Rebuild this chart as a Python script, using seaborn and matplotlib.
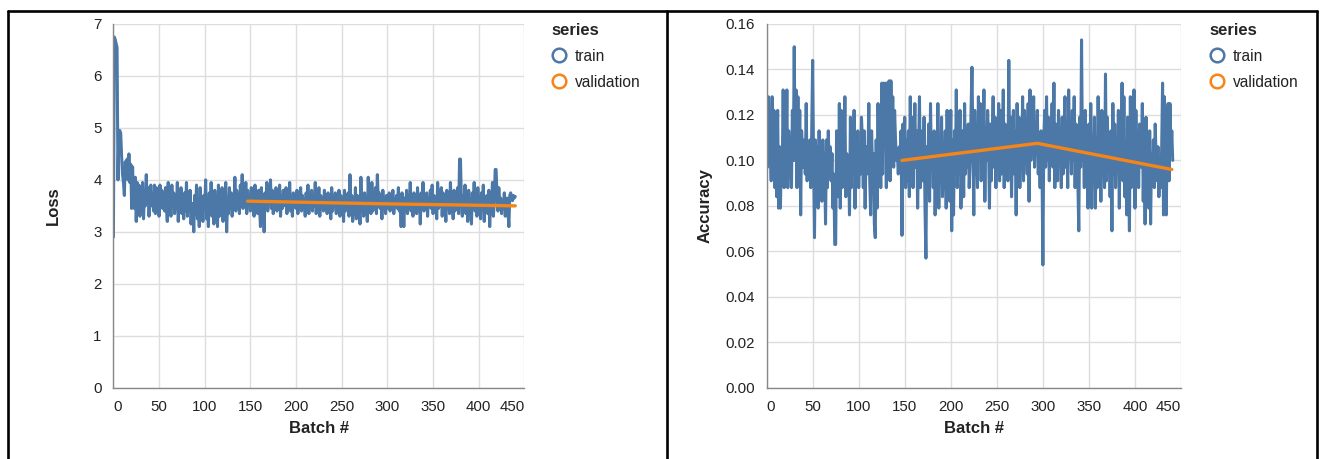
import numpy as np
import pandas as pd
import matplotlib
matplotlib.use("Agg")
import matplotlib.pyplot as plt
from matplotlib.lines import Line2D
import seaborn as sns

# --- data ---
TRAIN_LOSS = [
    2.90, 6.75, 6.70, 6.62, 6.55, 4.00, 4.95, 4.95, 4.90, 4.45, 4.10, 3.95, 3.70, 4.35, 4.20, 4.40, 4.00, 4.50, 3.95, 4.30,
    3.45, 4.25, 3.70, 3.45, 4.05, 3.20, 3.95, 3.55, 3.90, 3.30, 3.80, 3.60, 3.95, 3.25, 3.75, 3.50, 4.10, 3.55, 3.85, 3.30,
    3.70, 3.90, 3.50, 3.65, 3.40, 3.90, 3.35, 3.85, 3.60, 3.70, 3.30, 3.90, 3.55, 3.80, 3.45, 3.75, 3.40, 3.85, 3.50, 3.20,
    3.95, 3.45, 3.65, 3.30, 3.90, 3.50, 3.75, 3.35, 3.60, 3.45, 3.95, 3.20, 3.70, 3.40, 3.85, 3.35, 3.55, 3.25, 3.75, 3.40,
    3.95, 3.30, 3.60, 3.40, 3.80, 3.15, 3.55, 3.45, 3.00, 3.70, 3.35, 3.90, 3.25, 3.55, 3.10, 3.85, 3.40, 3.60, 3.20, 3.70,
    3.45, 4.00, 3.25, 3.55, 3.10, 3.75, 3.35, 3.95, 3.30, 3.60, 3.15, 3.80, 3.40, 3.55, 3.10, 3.90, 3.30, 3.65, 3.45, 3.85,
    3.20, 3.70, 3.50, 3.95, 3.00, 3.60, 3.35, 3.85, 3.45, 3.75, 3.30, 3.65, 3.50, 4.05, 3.40, 3.80, 3.55, 3.70, 3.35, 3.90,
    3.50, 4.10, 3.45, 3.75, 3.60, 3.95, 3.35, 3.80, 3.55, 3.70, 3.40, 3.85, 3.50, 3.75, 3.30, 3.90, 3.45, 3.65, 3.35, 3.80,
    3.50, 3.10, 3.85, 3.40, 3.60, 3.00, 3.75, 3.50, 3.95, 3.40, 3.70, 3.55, 4.00, 3.45, 3.80, 3.35, 3.65, 3.50, 3.85, 3.40,
    3.75, 3.55, 3.90, 3.30, 3.70, 3.45, 3.80, 3.60, 3.50, 3.85, 3.35, 3.70, 3.55, 3.95, 3.40, 3.65, 3.30, 3.75, 3.50, 3.60,
    3.45, 3.80, 3.35, 3.65, 3.55, 3.85, 3.40, 3.70, 3.50, 3.60, 3.30, 3.75, 3.45, 3.90, 3.35, 3.65, 3.55, 3.80, 3.40, 3.70,
    3.50, 3.95, 3.35, 3.60, 3.45, 3.85, 3.30, 3.70, 3.55, 3.65, 3.40, 3.80, 3.50, 3.55, 3.35, 3.75, 3.45, 3.65, 3.25, 3.85,
    3.40, 3.60, 3.50, 3.75, 3.35, 3.65, 3.45, 3.80, 3.30, 3.70, 3.55, 3.60, 3.20, 3.80, 3.40, 3.65, 3.50, 3.75, 3.30, 4.10,
    3.45, 3.70, 3.20, 3.60, 3.35, 3.85, 3.25, 3.70, 3.50, 3.60, 3.15, 4.05, 3.40, 3.65, 3.30, 3.75, 3.45, 3.55, 3.20, 4.05,
    3.45, 3.70, 3.35, 3.95, 3.40, 3.60, 3.50, 3.85, 3.35, 4.10, 3.60, 3.75, 3.45, 3.65, 3.25, 3.80, 3.50, 3.60, 3.35, 3.70,
    3.55, 3.45, 3.75, 3.40, 3.65, 3.50, 3.80, 3.35, 3.60, 3.55, 3.70, 3.45, 3.85, 3.40, 3.60, 3.10, 3.75, 3.50, 3.10, 3.65,
    3.45, 3.80, 3.35, 3.60, 3.50, 3.95, 3.40, 3.70, 3.30, 3.75, 3.55, 3.60, 3.35, 3.85, 3.45, 3.65, 3.15, 3.75, 3.50, 3.95,
    3.40, 3.60, 3.55, 3.75, 3.30, 3.65, 3.50, 3.80, 3.45, 3.90, 3.35, 3.70, 3.55, 3.60, 3.25, 3.95, 3.45, 3.70, 3.50, 3.85,
    3.30, 3.75, 3.45, 3.60, 3.20, 3.80, 3.50, 3.70, 3.35, 3.95, 3.45, 3.55, 3.25, 3.80, 3.40, 3.65, 3.50, 3.85, 3.35, 4.40,
    4.40, 3.60, 3.30, 3.70, 3.45, 3.90, 3.35, 3.65, 3.20, 3.80, 3.50, 3.60, 3.15, 3.75, 3.45, 3.95, 3.40, 3.70, 3.30, 3.85,
    3.50, 3.60, 3.25, 3.75, 3.45, 3.90, 3.20, 3.65, 3.50, 3.70, 3.35, 3.80, 3.10, 3.60, 3.45, 3.95, 3.30, 3.55, 4.20, 4.20,
    3.70, 3.40, 3.85, 3.50, 3.65, 3.35, 3.60, 3.45, 3.75, 3.30, 3.55, 3.65, 3.40, 3.10, 3.70, 3.75, 3.65, 3.60, 3.70, 3.65, 3.68,
]

TRAIN_ACC = [
    0.106, 0.097, 0.128, 0.100, 0.107, 0.091, 0.128, 0.094, 0.122, 0.088,
    0.119, 0.084, 0.122, 0.079, 0.106, 0.079, 0.103, 0.097, 0.131, 0.088,
    0.119, 0.100, 0.131, 0.088, 0.113, 0.097, 0.106, 0.088, 0.122, 0.100,
    0.150, 0.100, 0.131, 0.088, 0.128, 0.094, 0.122, 0.076, 0.113, 0.103,
    0.097, 0.109, 0.094, 0.125, 0.091, 0.103, 0.097, 0.109, 0.088, 0.113,
    0.144, 0.100, 0.066, 0.109, 0.094, 0.106, 0.079, 0.113, 0.091, 0.103,
    0.082, 0.109, 0.094, 0.100, 0.072, 0.109, 0.088, 0.113, 0.094, 0.106,
    0.091, 0.103, 0.079, 0.094, 0.063, 0.063, 0.113, 0.097, 0.084, 0.125,
    0.079, 0.122, 0.088, 0.106, 0.097, 0.128, 0.084, 0.103, 0.091, 0.100,
    0.076, 0.119, 0.088, 0.116, 0.094, 0.122, 0.079, 0.109, 0.097, 0.113,
    0.088, 0.103, 0.094, 0.119, 0.109, 0.088, 0.113, 0.079, 0.106, 0.094,
    0.100, 0.125, 0.091, 0.076, 0.113, 0.097, 0.103, 0.072, 0.066, 0.109,
    0.079, 0.125, 0.091, 0.109, 0.088, 0.134, 0.094, 0.134, 0.119, 0.134,
    0.088, 0.134, 0.106, 0.135, 0.091, 0.135, 0.103, 0.128, 0.097, 0.122,
    0.109, 0.100, 0.103, 0.094, 0.106, 0.097, 0.113, 0.067, 0.116, 0.100,
    0.119, 0.088, 0.109, 0.091, 0.113, 0.084, 0.128, 0.094, 0.119, 0.088,
    0.106, 0.125, 0.097, 0.113, 0.079, 0.103, 0.128, 0.088, 0.100, 0.113,
    0.091, 0.119, 0.079, 0.057, 0.106, 0.094, 0.116, 0.082, 0.125, 0.097,
    0.109, 0.088, 0.113, 0.076, 0.106, 0.094, 0.125, 0.079, 0.109, 0.097,
    0.119, 0.084, 0.103, 0.088, 0.113, 0.079, 0.122, 0.091, 0.103, 0.082,
    0.122, 0.069, 0.109, 0.076, 0.113, 0.094, 0.131, 0.088, 0.106, 0.100,
    0.122, 0.079, 0.097, 0.113, 0.084, 0.125, 0.094, 0.109, 0.097, 0.116,
    0.088, 0.100, 0.122, 0.141, 0.109, 0.076, 0.122, 0.094, 0.113, 0.088,
    0.128, 0.103, 0.125, 0.091, 0.119, 0.106, 0.131, 0.082, 0.113, 0.100,
    0.122, 0.109, 0.079, 0.116, 0.091, 0.109, 0.128, 0.097, 0.119, 0.088,
    0.113, 0.103, 0.125, 0.091, 0.122, 0.094, 0.106, 0.131, 0.088, 0.116,
    0.100, 0.113, 0.091, 0.144, 0.097, 0.119, 0.084, 0.109, 0.122, 0.094,
    0.113, 0.076, 0.125, 0.100, 0.119, 0.088, 0.109, 0.097, 0.128, 0.091,
    0.122, 0.103, 0.113, 0.094, 0.125, 0.082, 0.131, 0.100, 0.119, 0.109,
    0.128, 0.097, 0.113, 0.103, 0.122, 0.094, 0.106, 0.088, 0.113, 0.100,
    0.054, 0.109, 0.122, 0.097, 0.128, 0.100, 0.119, 0.091, 0.113, 0.103,
    0.125, 0.097, 0.134, 0.088, 0.116, 0.106, 0.091, 0.122, 0.100, 0.109,
    0.088, 0.119, 0.094, 0.113, 0.128, 0.097, 0.109, 0.088, 0.131, 0.103,
    0.113, 0.094, 0.122, 0.100, 0.128, 0.088, 0.116, 0.106, 0.091, 0.069,
    0.119, 0.097, 0.153, 0.100, 0.113, 0.088, 0.122, 0.094, 0.109, 0.079,
    0.116, 0.091, 0.125, 0.079, 0.106, 0.097, 0.119, 0.079, 0.109, 0.088,
    0.128, 0.094, 0.113, 0.082, 0.122, 0.097, 0.106, 0.088, 0.138, 0.091,
    0.119, 0.100, 0.109, 0.084, 0.113, 0.069, 0.125, 0.094, 0.116, 0.088,
    0.109, 0.097, 0.122, 0.079, 0.113, 0.100, 0.134, 0.091, 0.128, 0.084,
    0.106, 0.076, 0.119, 0.094, 0.069, 0.128, 0.088, 0.113, 0.100, 0.131,
    0.079, 0.122, 0.094, 0.109, 0.088, 0.116, 0.103, 0.097, 0.125, 0.082,
    0.113, 0.072, 0.119, 0.091, 0.106, 0.079, 0.113, 0.072, 0.103, 0.094,
    0.109, 0.088, 0.116, 0.100, 0.091, 0.106, 0.084, 0.097, 0.088, 0.105,
    0.134, 0.076, 0.128, 0.097, 0.076, 0.113, 0.125, 0.091, 0.125, 0.103,
    0.113, 0.100,
]

VAL_BATCH = [147, 294, 440]
VAL_LOSS = [3.59, 3.54, 3.50]
VAL_ACC = [0.100, 0.1075, 0.096]

SERIES = ["train", "validation"]
COLORS = {"train": "#4c78a8", "validation": "#f58518"}
X_TICKS = list(range(0, 451, 50))
LOSS_TICKS = list(range(0, 8))
ACC_TICKS = [0.00, 0.02, 0.04, 0.06, 0.08, 0.10, 0.12, 0.14, 0.16]

W, H = 1321, 459


def make_frame(train, val):
    tr = pd.DataFrame({"batch": np.arange(len(train)), "value": train, "series": "train"})
    va = pd.DataFrame({"batch": VAL_BATCH, "value": val, "series": "validation"})
    return pd.concat([tr, va], ignore_index=True)


def px_axes(fig, x0, x1, y0, y1):
    # pixel box (from top-left) -> figure fraction
    return fig.add_axes([x0 / W, 1 - y1 / H, (x1 - x0) / W, (y1 - y0) / H])


def style_axes(ax, yticks, ylabel, fmt, ylab_x):
    ax.set_xlim(0, 450)
    ax.set_ylim(yticks[0], yticks[-1])
    ax.set_xticks(X_TICKS)
    ax.set_yticks(yticks)
    ax.set_yticklabels([fmt.format(v) for v in yticks])
    ax.grid(True, color="#dddddd", linewidth=1)
    ax.set_axisbelow(True)
    for s in ["top", "right"]:
        ax.spines[s].set_visible(False)
    for s in ["left", "bottom"]:
        ax.spines[s].set_color("#888888")
        ax.spines[s].set_linewidth(1)
    ax.tick_params(axis="both", direction="out", length=5, width=1, color="#888888",
                   labelsize=10.8, labelcolor="#222222", pad=3.5)
    labs = ax.get_xticklabels()
    labs[0].set_horizontalalignment("left")
    labs[-1].set_horizontalalignment("right")
    ax.set_xlabel("Batch #", fontsize=12, fontweight="bold", color="#222222")
    ax.set_ylabel(ylabel, fontsize=12, fontweight="bold", color="#222222")
    ax.xaxis.set_label_coords(0.5, -0.092)
    ax.yaxis.set_label_coords(ylab_x, 0.5)


def add_legend(ax, fig, x_px, y_px):
    handles = [Line2D([], [], marker="o", linestyle="", markerfacecolor="none",
                      markeredgecolor=COLORS[s], markersize=9.8, markeredgewidth=1.8)
               for s in SERIES]
    leg = ax.legend(handles, SERIES, title="series", loc="upper left",
                    bbox_to_anchor=(x_px / W, 1 - y_px / H), bbox_transform=fig.transFigure,
                    frameon=False, alignment="left", borderpad=0, handlelength=1.0,
                    handletextpad=0.54, labelspacing=0.7, borderaxespad=0,
                    fontsize=11.2, title_fontproperties={"weight": "bold", "size": 12})
    for t in leg.get_texts():
        t.set_color("#222222")


sns.set_theme(style="white")
plt.rcParams["font.family"] = ["Liberation Sans", "DejaVu Sans"]

fig = plt.figure(figsize=(W / 100, H / 100), dpi=100)

panels = [
    (TRAIN_LOSS, VAL_LOSS, LOSS_TICKS, "Loss", "{:d}", (113.4, 524.4), 551, -0.128),
    (TRAIN_ACC, VAL_ACC, ACC_TICKS, "Accuracy", "{:.2f}", (766.6, 1181.0), 1209, -0.131),
]

for train, val, yticks, ylabel, fmt, (x0, x1), leg_x, ylab_x in panels:
    ax = px_axes(fig, x0, x1, 24.0, 387.7)
    df = make_frame(train, val)
    sns.lineplot(data=df, x="batch", y="value", hue="series", hue_order=SERIES,
                 palette=COLORS, estimator=None, legend=False, ax=ax)
    ax.lines[0].set_linewidth(2.2)
    ax.lines[1].set_linewidth(2.4)
    style_axes(ax, yticks, ylabel, fmt, ylab_x)
    add_legend(ax, fig, leg_x, 23)

# table borders around the two panels
border = dict(transform=fig.transFigure, color="black", linewidth=1.9)
fig.add_artist(Line2D([7.5 / W, 1316.5 / W], [1 - 10.5 / H, 1 - 10.5 / H], **border))
for xp in [7.5, 666.5, 1316.5]:
    fig.add_artist(Line2D([xp / W, xp / W], [0, 1 - 10.5 / H], **border))

fig.savefig("out.png", dpi=100)
